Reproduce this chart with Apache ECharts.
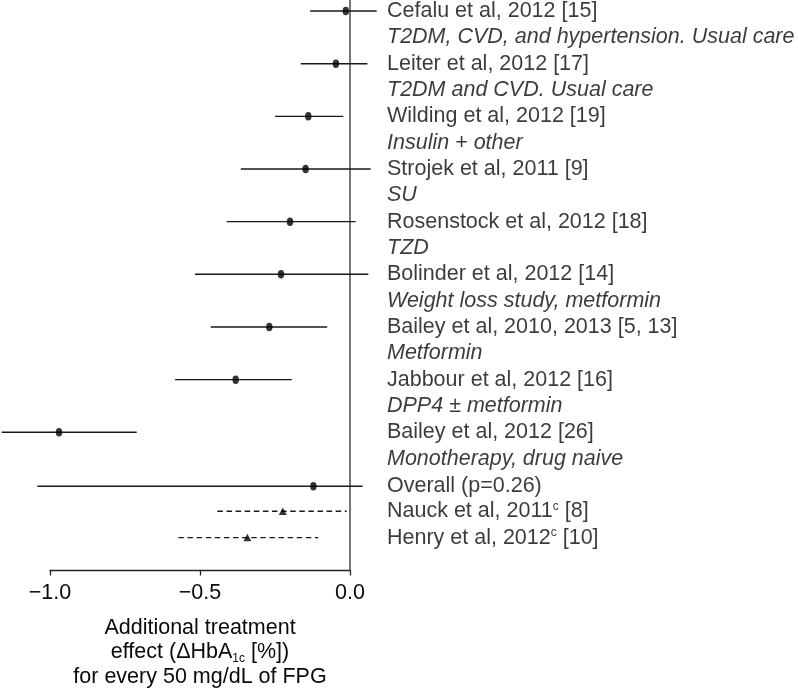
<!DOCTYPE html>
<html>
<head>
<meta charset="utf-8">
<script src="https://cdn.jsdelivr.net/npm/echarts@6/dist/echarts.min.js"></script>
<style>
html,body{margin:0;padding:0;background:#fff;}
#c{width:798px;height:694px;}
</style>
</head>
<body>
<div id="c"></div>
<script>
// ---- data ----
var studies = [
  'Cefalu et al, 2012 [15]',
  'Leiter et al, 2012 [17]',
  'Wilding et al, 2012 [19]',
  'Strojek et al, 2011 [9]',
  'Rosenstock et al, 2012 [18]',
  'Bolinder et al, 2012 [14]',
  'Bailey et al, 2010, 2013 [5, 13]',
  'Jabbour et al, 2012 [16]',
  'Bailey et al, 2012 [26]',
  'Overall (p=0.26)',
  'Nauck et al, 2011ᶜ [8]',
  'Henry et al, 2012ᶜ [10]'
];
var studyRows = [0, 2, 4, 6, 8, 10, 12, 14, 16, 18.05, 19, 20];
var groups = [
  'T2DM, CVD, and hypertension. Usual care',
  'T2DM and CVD. Usual care',
  'Insulin + other',
  'SU',
  'TZD',
  'Weight loss study, metformin',
  'Metformin',
  'DPP4 ± metformin',
  'Monotherapy, drug naive'
];
var groupRows = [1, 3, 5, 7, 9, 11, 13, 15, 17];
var estimates = [-0.014, -0.047, -0.139, -0.148, -0.200, -0.230, -0.269, -0.381, -0.970, -0.122, -0.224, -0.342];
var lower     = [-0.133, -0.164, -0.250, -0.364, -0.411, -0.517, -0.464, -0.583, -1.161, -1.042, -0.442, -0.572];
var upper     = [ 0.089,  0.058, -0.022,  0.069,  0.019,  0.061, -0.076, -0.194, -0.711,  0.042, -0.011, -0.106];
var kinds     = ['pooled','pooled','pooled','pooled','pooled','pooled','pooled','pooled','pooled','pooled','separate','separate'];
var xTicks = [-1.0, -0.5, 0.0];

// ---- build ----
var FONT = 'Liberation Sans, Arial, Helvetica, sans-serif';
var FS = 21.5;
var INK = '#0a0a0a';

var ciData = studies.map(function (s, i) { return [lower[i], upper[i], studyRows[i], kinds[i] === 'separate' ? 1 : 0]; });
var circleData = [], triData = [];
studies.forEach(function (s, i) {
  if (kinds[i] === 'separate') triData.push([estimates[i], studyRows[i]]);
  else circleData.push([estimates[i], studyRows[i]]);
});
var studyLabelData = studies.map(function (s, i) { return {value: [0, studyRows[i]], name: s}; });
var groupLabelData = groups.map(function (s, i) { return {value: [0, groupRows[i]], name: s}; });

var chart = echarts.init(document.getElementById('c'), null, {renderer: 'canvas'});
chart.setOption({
  animation: false,
  backgroundColor: '#fff',
  textStyle: {fontFamily: FONT},
  grid: {left: 50, top: 0, width: 300, height: 572, containLabel: false},
  xAxis: {
    type: 'value', min: xTicks[0], max: xTicks[xTicks.length - 1], interval: 0.5,
    axisLine: {show: true, onZero: false, lineStyle: {color: '#222', width: 1.3}},
    axisTick: {show: true, inside: false, length: 5, lineStyle: {color: '#222', width: 1.3}},
    splitLine: {show: false},
    axisLabel: {
      color: INK, fontSize: FS, fontFamily: FONT, margin: 12,
      formatter: function (v) { return v.toFixed(1).replace('-', '\u2212'); }
    },
    name: 'Additional treatment\neffect (\u0394HbA{sub|1c} [%])\nfor every 50 mg/dL of FPG',
    nameLocation: 'middle',
    nameGap: 45,
    nameTextStyle: {
      color: INK, fontSize: FS, fontFamily: FONT, lineHeight: 24.5, align: 'center', verticalAlign: 'top',
      rich: {sub: {fontSize: 12, fontFamily: FONT, color: INK, lineHeight: 7, verticalAlign: 'bottom'}}
    }
  },
  yAxis: {
    type: 'value', inverse: true, min: -0.42, max: 21.25,
    position: 'right',
    axisLine: {show: true, lineStyle: {color: '#555', width: 1.6}},
    axisTick: {show: false}, axisLabel: {show: false}, splitLine: {show: false}
  },
  series: [
    {
      type: 'custom', clip: false, silent: true, z: 2,
      data: ciData,
      encode: {x: [0, 1], y: 2},
      renderItem: function (params, api) {
        var a = api.coord([api.value(0), api.value(2)]);
        var b = api.coord([api.value(1), api.value(2)]);
        var dashed = api.value(3) === 1;
        return {
          type: 'line',
          shape: {x1: a[0], y1: a[1], x2: b[0], y2: b[1]},
          style: {stroke: '#1a1a1a', lineWidth: 1.4, lineDash: dashed ? [5.5, 3.6] : null}
        };
      }
    },
    {
      type: 'scatter', clip: false, silent: true, z: 3,
      symbol: 'circle', symbolSize: [6.5, 8.5],
      itemStyle: {color: '#000'},
      data: circleData
    },
    {
      type: 'scatter', clip: false, silent: true, z: 3,
      symbol: 'triangle', symbolSize: [8, 7.5],
      itemStyle: {color: '#000'},
      data: triData
    },
    {
      type: 'scatter', clip: false, silent: true, z: 4,
      symbolSize: 0, itemStyle: {color: 'transparent'},
      data: studyLabelData,
      label: {
        show: true, position: 'right', distance: 37, color: INK, fontSize: FS, fontFamily: FONT,
        formatter: function (p) { return p.name.replace('ᶜ', '{sup|c}'); },
        rich: {sup: {fontSize: 12, fontFamily: FONT, color: INK, lineHeight: 12, verticalAlign: 'top'}}
      }
    },
    {
      type: 'scatter', clip: false, silent: true, z: 4,
      symbolSize: 0, itemStyle: {color: 'transparent'},
      data: groupLabelData,
      label: {
        show: true, position: 'right', distance: 37, color: INK, fontSize: FS, fontFamily: FONT,
        fontStyle: 'italic',
        formatter: function (p) { return p.name; }
      }
    }
  ]
});
</script>
</body>
</html>
